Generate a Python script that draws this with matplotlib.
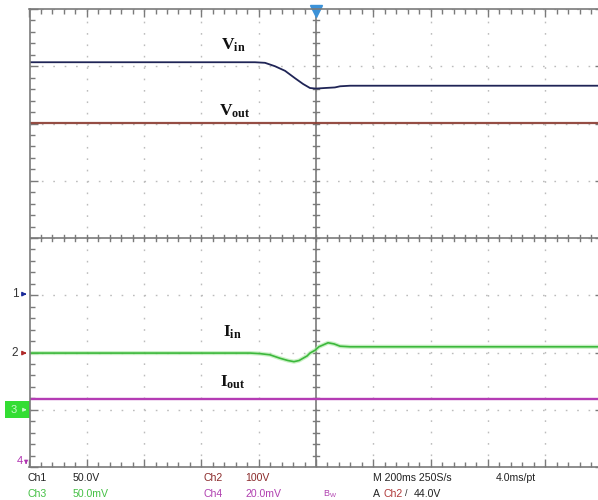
import matplotlib.pyplot as plt
import matplotlib.transforms as mtransforms
from matplotlib.patches import Rectangle

plt.rcParams['font.family'] = ['Liberation Sans', 'DejaVu Sans']
plt.rcParams['mathtext.fontset'] = 'custom'
plt.rcParams['mathtext.bf'] = 'Liberation Serif:bold'
plt.rcParams['mathtext.rm'] = 'Liberation Serif:bold'

# time in ms (200 ms/div), amplitude in screen divisions
vin_t = [-1000, -600, -213, -178, -143, -108, -73, -45, -21, 0, 31, 66, 84, 119, 1000]
vin_y = [3.07, 3.07, 3.07, 3.06, 3.00, 2.92, 2.79, 2.69, 2.62, 2.61, 2.62, 2.63,
         2.65, 2.66, 2.66]

vout_t = [-1000, 1000]
vout_y = [2.01, 2.01]

iin_t = [-1000, -230, -195, -161, -126, -98, -77, -59, -45, -31, -21, -3, 10, 24,
         42, 63, 84, 119, 154, 1000]
iin_y = [-2.01, -2.01, -2.02, -2.04, -2.10, -2.14, -2.16, -2.14, -2.10, -2.06,
         -2.01, -1.96, -1.90, -1.87, -1.83, -1.85, -1.89, -1.90, -1.90, -1.90]

iout_t = [-1000, 1000]
iout_y = [-2.81, -2.81]

# channel ground markers on the left edge
marker_labels = ['1', '2', '3', '4']
marker_levels = [-0.98, -2.01, -3.0, -3.9]
marker_colors = ['#1a2a9a', '#b02a2a', '#33dd33', '#b030b0']

W, H = 598, 500
fig = plt.figure(figsize=(W / 100, H / 100), dpi=100)
fig.patch.set_facecolor('white')

# graticule spans 10 x 8 divisions; right edge runs past the screen grab
ax = fig.add_axes([29.5 / W, 33 / H, 573 / W, 458 / H])
ax.set_xlim(-1000, 1000)
ax.set_ylim(-4, 4)

gcol = '#7a7a7a'
for s in ax.spines.values():
    s.set_color(gcol)
    s.set_linewidth(1.2)

ax.set_xticks(range(-1000, 1001, 200))
ax.set_xticks(range(-1000, 1001, 40), minor=True)
ax.set_yticks([-4, -3, -2, -1, 0, 1, 2, 3, 4])
ax.set_yticks([i / 5 for i in range(-20, 21)], minor=True)
ax.tick_params(which='both', direction='in', top=True, right=True,
               labelbottom=False, labelleft=False, color=gcol, width=1)
ax.tick_params(which='major', length=6)
ax.tick_params(which='minor', length=3.5)
ax.grid(True, which='major', color='#bcbcbc', linewidth=1.0,
        linestyle=(0, (1.2, 7.0)))

# centre crosshair with its minor ticks
ax.axhline(0, color=gcol, linewidth=1.2)
ax.axvline(0, color=gcol, linewidth=1.2)
for i in range(-25, 26):
    t = i * 40
    ax.plot([t, t], [-0.06, 0.06], color=gcol, linewidth=1)
for i in range(-20, 21):
    v = i / 5
    ax.plot([-12, 12], [v, v], color=gcol, linewidth=1)

# traces
ax.plot(vout_t, vout_y, color='#8a3a30', linewidth=1.6, alpha=0.9)
ax.plot(iout_t, iout_y, color='#b43cb4', linewidth=1.7)
ax.plot(iin_t, iin_y, color='#a8e8a0', linewidth=3.0, alpha=0.6)
ax.plot(iin_t, iin_y, color='#3cb83c', linewidth=1.2)
ax.plot(vin_t, vin_y, color='#1f2456', linewidth=1.3)

# trigger position marker
ax.plot(0, 3.96, marker='v', color='#3c92d8', markersize=8, clip_on=False)

# trace labels
label_kw = dict(fontsize=12.5, color='#111111', ha='center', va='center')
ax.text(-290, 3.36, r'$\mathbf{V_{in}}$', **label_kw)
ax.text(-282, 2.22, r'$\mathbf{V_{out}}$', **label_kw)
ax.text(-290, -1.64, r'$\mathbf{I_{in}}$', **label_kw)
ax.text(-290, -2.52, r'$\mathbf{I_{out}}$', **label_kw)

# ground markers
blend = mtransforms.blended_transform_factory(ax.transAxes, ax.transData)
for lab, lev, col in zip(marker_labels, marker_levels, marker_colors):
    if lab == '3':
        ax.add_patch(Rectangle((-0.043, lev - 0.15), 0.043, 0.30, transform=blend,
                               facecolor=col, edgecolor='none', clip_on=False))
        ax.text(-0.027, lev, lab, transform=blend, fontsize=8, color='#c8f8c8',
                ha='center', va='center')
        ax.annotate('', xy=(0.0, lev), xytext=(-0.014, lev), xycoords=blend,
                    textcoords=blend,
                    arrowprops=dict(arrowstyle='-|>', color='#c8f8c8', lw=0.8,
                                    mutation_scale=5))
    elif lab == '4':
        ax.text(-0.017, lev, lab, transform=blend, fontsize=8, color=col,
                ha='center', va='center')
        ax.annotate('', xy=(-0.006, lev - 0.1), xytext=(-0.006, lev + 0.02),
                    xycoords=blend, textcoords=blend,
                    arrowprops=dict(arrowstyle='-|>', color=col, lw=0.8,
                                    mutation_scale=5))
    else:
        ax.text(-0.025, lev, lab, transform=blend, fontsize=8.5, color='#333333',
                ha='center', va='center')
        ax.annotate('', xy=(0.0, lev), xytext=(-0.015, lev), xycoords=blend,
                    textcoords=blend,
                    arrowprops=dict(arrowstyle='-|>', color=col, lw=1.0,
                                    mutation_scale=6))

# readout below the graticule
def readout(x, y, s, color='#222222', size=7.6):
    fig.text(x / W, 1 - y / H, s, color=color, fontsize=size, ha='left', va='center')

green = '#44c044'
magenta = '#b040b0'
maroon = '#8a2a2a'
readout(28, 478, 'Ch1')
readout(73, 478, '50.0V')
readout(203, 478, 'Ch2', maroon)
readout(245, 478, '100V', maroon)
readout(373, 478, 'M 200ms 250S/s')
readout(496, 478, '4.0ms/pt')
readout(28, 494, 'Ch3', green)
readout(73, 494, '50.0mV', green)
readout(203, 494, 'Ch4', magenta)
readout(245, 494, '20.0mV', magenta)
readout(323, 494, 'B$_\\mathregular{W}$', magenta, 6.5)
readout(373, 494, 'A')
readout(384, 494, 'Ch2', '#b03a3a')
readout(405, 494, '/', '#222222', 6.5)
readout(414, 494, '44.0V')

fig.savefig('out.png', dpi=100)
